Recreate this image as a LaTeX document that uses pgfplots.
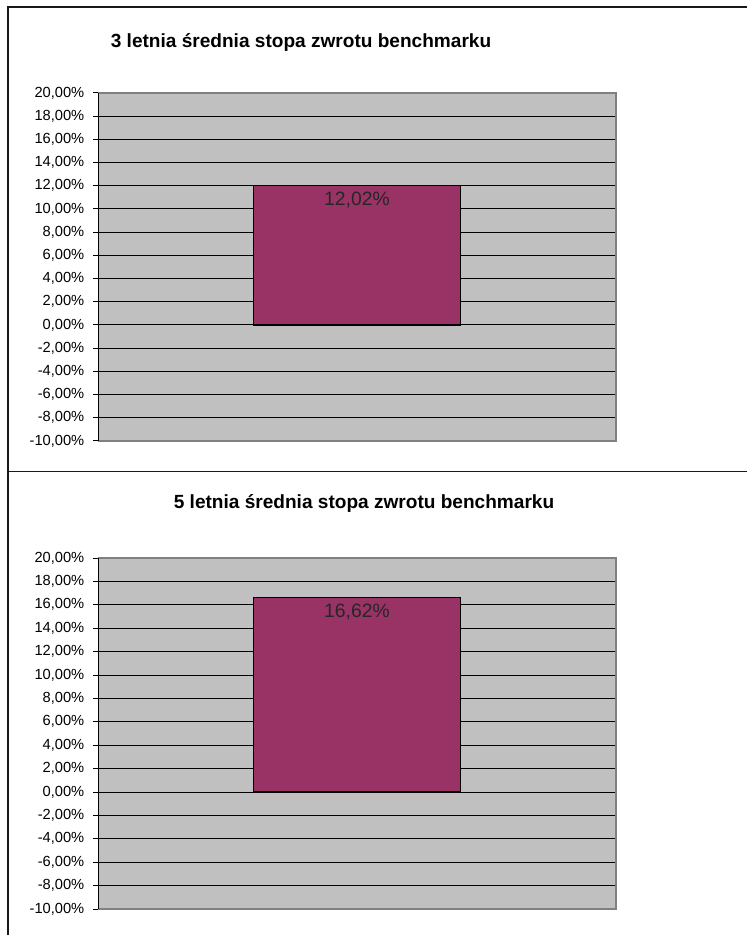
\documentclass[border=0pt]{standalone}
\usepackage{fontspec}
\setmainfont{Liberation Sans}
\usepackage{pgfplots}
\pgfplotsset{compat=1.18}
\definecolor{plotbg}{HTML}{C0C0C0}
\definecolor{barfill}{HTML}{993366}
\definecolor{plotframe}{HTML}{808080}

\pgfplotsset{
  retchart/.style={
    anchor=south west, scale only axis, clip=false,
    width=388.5pt,
    xmin=-1, xmax=1, ymin=-10, ymax=20,
    xtick=\empty,
    ytick={-10,-8,...,20}, ytick pos=left,
    ymajorgrids, major grid style={black, line width=0.75pt},
    axis background/.style={fill=plotbg},
    axis line style={draw=none},
    tick align=outside, major tick length=3.75pt,
    ytick style={black, line width=0.75pt},
    yticklabel style={font=\fontsize{11}{13}\selectfont, xshift=-3pt,
      /pgf/number format/.cd, fixed, fixed zerofill, precision=2, use comma, assume math mode=true},
    yticklabel={\pgfmathprintnumber{\tick}\%},
    ybar, bar width=0.8,
    nodes near coords={\pgfmathprintnumber[fixed, fixed zerofill, precision=2, use comma, assume math mode=true]{\pgfplotspointmeta}\%},
    nodes near coords align={anchor=north},
    every node near coord/.append style={anchor=north, yshift=-1pt,
      font=\fontsize{14.5}{16}\selectfont, text=black!85},
  }
}

\begin{document}
\begin{tikzpicture}[x=0.75pt, y=0.75pt]
\path[use as bounding box] (0,0) rectangle (747,935);
% outer frame
\draw[black!90, line width=0.9pt] (8,0) -- (8,928) -- (747,928);
\draw[black!90, line width=0.9pt] (8,463.5) -- (747,463.5);

% 3-year chart
\node[font=\fontsize{14.3}{16}\selectfont\bfseries] at (301,893) {3 letnia średnia stopa zwrotu benchmarku};
\begin{axis}[retchart, at={(73.5pt,370.5pt)}, height=261pt]
  \addplot[fill=barfill, draw=black, line width=1.2pt] coordinates {(0,12.02)};
  \draw[plotframe, line width=1.5pt] (rel axis cs:0,1) -- (rel axis cs:1,1) -- (rel axis cs:1,0) -- (rel axis cs:0,0);
  \draw[black, line width=0.75pt] (rel axis cs:0,0) -- (rel axis cs:0,1);
\end{axis}

% 5-year chart
\node[font=\fontsize{14.3}{16}\selectfont\bfseries] at (364,432) {5 letnia średnia stopa zwrotu benchmarku};
\begin{axis}[retchart, at={(73.5pt,19.5pt)}, height=263.25pt]
  \addplot[fill=barfill, draw=black, line width=1.2pt] coordinates {(0,16.62)};
  \draw[plotframe, line width=1.5pt] (rel axis cs:0,1) -- (rel axis cs:1,1) -- (rel axis cs:1,0) -- (rel axis cs:0,0);
  \draw[black, line width=0.75pt] (rel axis cs:0,0) -- (rel axis cs:0,1);
\end{axis}
\end{tikzpicture}
\end{document}
